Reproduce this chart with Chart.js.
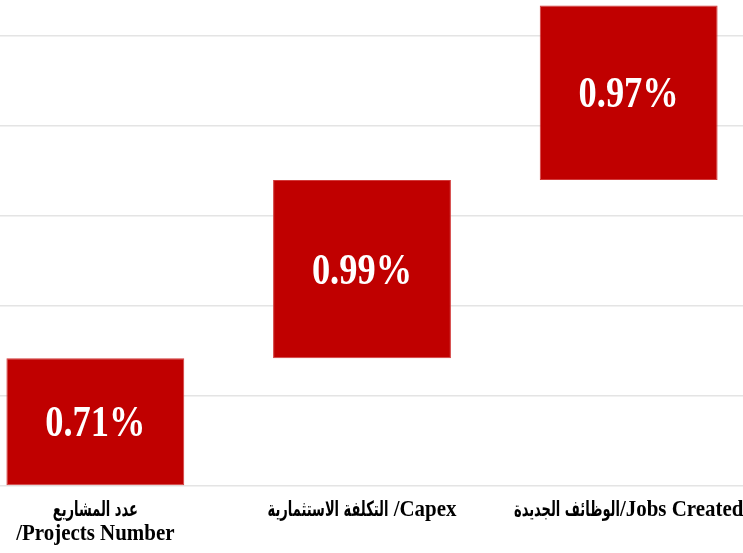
<!DOCTYPE html>
<html>
<head>
<meta charset="utf-8">
<script src="https://cdn.jsdelivr.net/npm/chart.js@4/dist/chart.umd.min.js"></script>
<style>
  html, body { margin: 0; padding: 0; background: #ffffff; overflow: hidden; }
  body { width: 743px; height: 553px; position: relative; }
  #c { position: absolute; left: -38px; top: 0; }
</style>
</head>
<body>
<canvas id="c" width="800" height="553"></canvas>
<script>
// ---- data ----
const categories = [
  ['عدد المشاريع', '/Projects Number'],
  ['التكلفة الاستثمارية /Capex'],
  ['الوظائف الجديدة/Jobs Created']
];
const values = [0.71, 0.99, 0.97];
const valueLabels = ['0.71%', '0.99%', '0.97%'];
const gridTicks = [0, 0.5, 1, 1.5, 2, 2.5];

// floating (waterfall) ranges built from the values
const ranges = [];
let run = 0;
values.forEach(v => { ranges.push([run, +(run + v).toFixed(2)]); run += v; });

const SERIF = '"Liberation Serif", "Times New Roman", serif';
const ARABIC = '"DejaVu Sans", sans-serif';
const AR_RE = /[\u0600-\u06FF](?:[\u0600-\u06FF\s]*[\u0600-\u06FF])?|[^\u0600-\u06FF]+/g;

function segStyle(seg) {
  return /[\u0600-\u06FF]/.test(seg)
    ? { font: 'bold 21px ' + ARABIC, sx: 0.62 }
    : { font: 'bold 23px ' + SERIF, sx: 0.91 };
}

const labelPlugin = {
  id: 'customLabels',
  afterDatasetsDraw(chart) {
    const ctx = chart.ctx;
    const meta = chart.getDatasetMeta(0);
    meta.data.forEach((bar, i) => {
      const p = bar.getProps(['x', 'y', 'base'], true);
      const cy = (p.y + p.base) / 2 + 3;
      ctx.save();
      ctx.translate(p.x, cy);
      ctx.scale(0.81, 1);
      ctx.font = 'bold 45px ' + SERIF;
      ctx.fillStyle = '#ffffff';
      ctx.textAlign = 'center';
      ctx.textBaseline = 'middle';
      ctx.direction = 'ltr';
      ctx.fillText(valueLabels[i], 0, 0);
      ctx.restore();
    });
    const xs = chart.scales.x;
    const bottom = chart.chartArea.bottom;
    categories.forEach((lines, i) => {
      const cx = xs.getPixelForValue(i);
      lines.forEach((t, j) => {
        const segs = t.match(AR_RE) || [t];
        ctx.save();
        ctx.direction = 'ltr';
        ctx.textBaseline = 'alphabetic';
        ctx.textAlign = 'left';
        ctx.fillStyle = '#000000';
        const widths = segs.map(s => {
          const st = segStyle(s);
          ctx.font = st.font;
          return ctx.measureText(s).width * st.sx;
        });
        const total = widths.reduce((a, b) => a + b, 0);
        let x = cx - total / 2;
        const y = bottom + 30 + j * 24;
        segs.forEach((s, k) => {
          const st = segStyle(s);
          ctx.save();
          ctx.translate(x, y);
          ctx.scale(st.sx, 1);
          ctx.font = st.font;
          ctx.fillText(s, 0, 0);
          ctx.restore();
          x += widths[k];
        });
        ctx.restore();
      });
    });
  }
};

new Chart(document.getElementById('c'), {
  type: 'bar',
  data: {
    labels: categories,
    datasets: [{
      data: ranges,
      backgroundColor: '#C00000',
      borderColor: '#D23A3A',
      borderWidth: 1,
      borderSkipped: false,
      barPercentage: 0.667,
      categoryPercentage: 1.0
    }]
  },
  options: {
    responsive: false,
    animation: false,
    layout: { padding: { left: 0, right: 0, top: 0, bottom: 67 } },
    plugins: { legend: { display: false }, tooltip: { enabled: false } },
    scales: {
      x: { display: false },
      y: {
        min: 0, max: 2.7,
        afterBuildTicks(axis) { axis.ticks = gridTicks.map(v => ({ value: v })); },
        ticks: { display: false },
        border: { display: false },
        grid: { color: '#e4e4e4', lineWidth: 1.5, drawTicks: false }
      }
    }
  },
  plugins: [labelPlugin]
});
</script>
</body>
</html>
